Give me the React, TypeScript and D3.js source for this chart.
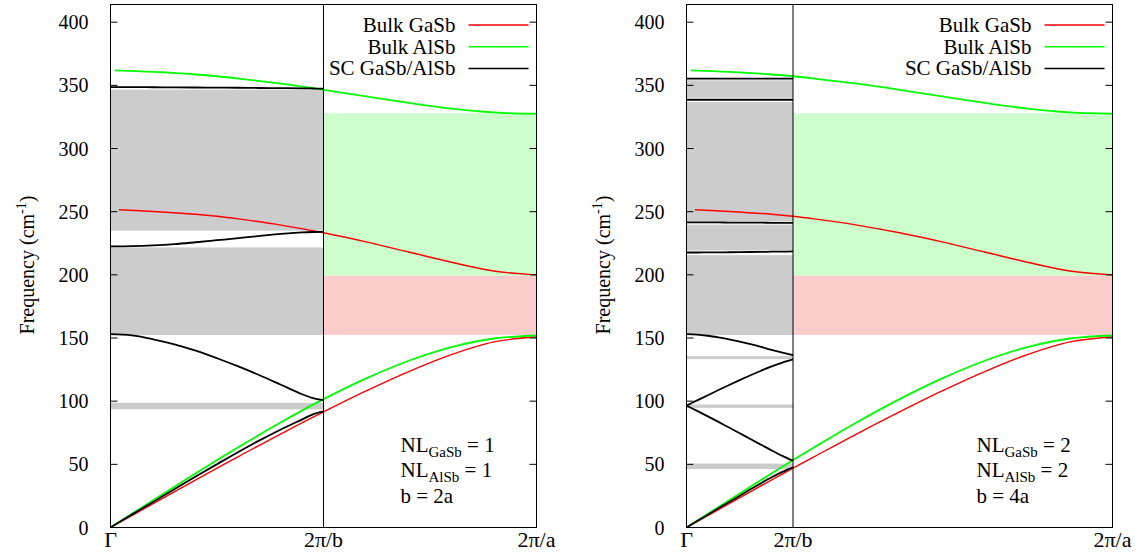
import React from "react";
import * as d3 from "d3";

// ---------- data (frequencies in cm^-1, wavevector in units of 2π/a) ----------
const Q_BULK = [0, 0.1, 0.2, 0.25, 0.3, 0.4, 0.5, 0.6, 0.7, 0.8, 0.9, 1.0];
const Q_GASB_OPT = [0.02, 0.1, 0.2, 0.25, 0.3, 0.4, 0.5, 0.6, 0.7, 0.8, 0.9, 1.0];
const Q_ALSB_OPT = [0.01, 0.1, 0.2, 0.25, 0.3, 0.4, 0.5, 0.6, 0.7, 0.8, 0.9, 1.0];
const GASB_ACOUSTIC = [0, 18.9, 37.7, 47.0, 56.1, 74.2, 91.5, 108.1, 123.4, 136.8, 146.9, 151];
const GASB_OPTICAL = [251.5, 250.2, 248.0, 246.4, 244.3, 239.4, 233.3, 226.1, 218.1, 210.0, 203.0, 200.0];
const ALSB_ACOUSTIC = [0, 21.6, 42.9, 53.4, 63.6, 83.3, 101.6, 118.0, 132.0, 142.8, 149.6, 152];
const ALSB_OPTICAL = [361.8, 360.6, 358.6, 357.2, 355.4, 351.3, 346.5, 341.2, 336.1, 331.6, 328.6, 327.5];

// supercell b = 2a (zone edge at 0.5)
const Q_SC_2A = [0, 0.05, 0.1, 0.15, 0.2, 0.25, 0.3, 0.35, 0.4, 0.45, 0.475, 0.5];
const SC2A_BAND1 = [0, 10.2, 20.2, 30.3, 40.3, 50.1, 59.8, 69.0, 77.6, 85.6, 89.6, 92];
const SC2A_BAND2 = [153, 152, 149, 145, 140, 134, 127.5, 120.5, 113, 105.5, 102.5, 100.8];
const SC2A_BAND3 = [222.5, 222.7, 223.3, 224.3, 225.8, 227.4, 229, 230.8, 232.5, 233.6, 233.9, 234];
const SC2A_BAND4 = [348.6, 348.6, 348.5, 348.4, 348.3, 348.2, 348.1, 347.9, 347.8, 347.6, 347.5, 347.4];
const SC2A_GAPS = [[93.5, 98.7], [152.4, 221.7], [235, 346.6]];

// supercell b = 4a (zone edge at 0.25)
const Q_SC_4A = [0, 0.025, 0.05, 0.075, 0.1, 0.125, 0.15, 0.175, 0.2, 0.225, 0.25];
const SC4A_BAND1 = [0, 5.1, 10.1, 15.2, 20.2, 25.2, 30.2, 35.1, 39.8, 44.0, 47.6];
const SC4A_BAND2 = [96.5, 92.3, 88.0, 83.6, 79.1, 74.6, 70.0, 65.5, 61.0, 56.7, 52.8];
const SC4A_BAND3 = [96.5, 100.6, 104.7, 108.8, 112.8, 116.7, 120.5, 124.1, 127.5, 130.5, 133.0];
const SC4A_BAND4 = [153, 152.7, 151.8, 150.5, 149.0, 147.2, 145.2, 143.0, 140.6, 138.5, 136.5];
const SC4A_BAND5 = [217.7, 217.7, 217.8, 217.8, 217.9, 218.0, 218.1, 218.2, 218.3, 218.4, 218.5];
const SC4A_BAND6 = [241.6, 241.6, 241.5, 241.5, 241.4, 241.4, 241.3, 241.3, 241.2, 241.2, 241.2];
const SC4A_BAND7 = [338.6, 338.6, 338.6, 338.6, 338.6, 338.6, 338.6, 338.6, 338.6, 338.6, 338.6];
const SC4A_BAND8 = [355.3, 355.3, 355.3, 355.3, 355.3, 355.3, 355.3, 355.3, 355.3, 355.3, 355.3];
const SC4A_GAPS = [[46.3, 50.6], [94.7, 97.4], [133.3, 135.7], [152.4, 215.6], [219.3, 239.7], [242.3, 336.7], [340.3, 354]];

const GASB_BULK_GAP = [152.4, 199.5];
const ALSB_BULK_GAP = [199.5, 328];

const Y_TICKS = [0, 50, 100, 150, 200, 250, 300, 350, 400];
const X_TICK_LABELS = ["Γ", "2π/b", "2π/a"];
const LEGEND_LABELS = ["Bulk GaSb", "Bulk AlSb", "SC GaSb/AlSb"];
const LEGEND_COLORS = ["#ff0000", "#00ff00", "#000000"];

const PANELS = [
  { x0: 110.5, zone: 0.5, qSc: Q_SC_2A, bands: [SC2A_BAND1, SC2A_BAND2, SC2A_BAND3, SC2A_BAND4], gaps: SC2A_GAPS, nl: "1", b: "b = 2a" },
  { x0: 686.5, zone: 0.25, qSc: Q_SC_4A, bands: [SC4A_BAND1, SC4A_BAND2, SC4A_BAND3, SC4A_BAND4, SC4A_BAND5, SC4A_BAND6, SC4A_BAND7, SC4A_BAND8], gaps: SC4A_GAPS, nl: "2", b: "b = 4a" },
];

const FONT = '"Liberation Serif", "Times New Roman", serif';
const PW = 426;
const TOP = 4.5;
const BOTTOM = 527.5;

function Panel({ p }: { p: (typeof PANELS)[number] }) {
  const x = d3.scaleLinear().domain([0, 1]).range([p.x0, p.x0 + PW]);
  const y = d3.scaleLinear().domain([0, 414]).range([BOTTOM, TOP]);
  const line = (qs: number[], vs: number[]) =>
    d3.line<number>().x((_, i) => x(qs[i])).y((v) => y(v)).curve(d3.curveCatmullRom.alpha(0.5))(vs) || "";
  const xz = x(p.zone);
  const x1 = x(1);
  const ticksX = [0, p.zone, 1];
  return (
    <g>
      {p.gaps.map((g, i) => (
        <rect key={"g" + i} x={x(0)} width={xz - x(0)} y={y(g[1])} height={y(g[0]) - y(g[1])} fill="#cccccc" />
      ))}
      <rect x={xz} width={x1 - xz} y={y(GASB_BULK_GAP[1])} height={y(GASB_BULK_GAP[0]) - y(GASB_BULK_GAP[1])} fill="#ffcccc" />
      <rect x={xz} width={x1 - xz} y={y(ALSB_BULK_GAP[1])} height={y(ALSB_BULK_GAP[0]) - y(ALSB_BULK_GAP[1])} fill="#ccffcc" />
      <path d={line(Q_BULK, GASB_ACOUSTIC)} fill="none" stroke="#ff0000" strokeWidth={1.4} />
      <path d={line(Q_GASB_OPT, GASB_OPTICAL)} fill="none" stroke="#ff0000" strokeWidth={1.4} />
      <path d={line(Q_BULK, ALSB_ACOUSTIC)} fill="none" stroke="#00ff00" strokeWidth={1.8} />
      <path d={line(Q_ALSB_OPT, ALSB_OPTICAL)} fill="none" stroke="#00ff00" strokeWidth={1.8} />
      {p.bands.map((b, i) => (
        <path key={"b" + i} d={line(p.qSc, b)} fill="none" stroke="#000" strokeWidth={1.8} />
      ))}
      <line x1={xz} x2={xz} y1={TOP} y2={BOTTOM} stroke="#000" strokeWidth={1} />
      {Y_TICKS.map((t) => (
        <g key={"t" + t}>
          <line x1={x(0)} x2={x(0) + 7} y1={y(t)} y2={y(t)} stroke="#000" />
          <line x1={x1} x2={x1 - 7} y1={y(t)} y2={y(t)} stroke="#000" />
          <text x={x(0) - 22} y={y(t) + 7} textAnchor="end">{t}</text>
        </g>
      ))}
      {ticksX.map((t, i) => (
        <text key={"xt" + i} x={x(t)} y={547} textAnchor="middle" fontSize={22}>{X_TICK_LABELS[i]}</text>
      ))}
      <rect x={x(0)} y={TOP} width={PW} height={BOTTOM - TOP} fill="none" stroke="#000" strokeWidth={1} />
      <text transform={`translate(${p.x0 - 77},265) rotate(-90)`} textAnchor="middle">
        Frequency (cm<tspan dy={-8} fontSize={14}>-1</tspan><tspan dy={8}>)</tspan>
      </text>
      {LEGEND_LABELS.map((l, i) => (
        <g key={"l" + i}>
          <text x={x1 - 81} y={25 + i * 21.7 + 7} textAnchor="end" fontSize={21}>{l}</text>
          <line x1={x1 - 68} x2={x1 - 8} y1={25 + i * 21.7} y2={25 + i * 21.7} stroke={LEGEND_COLORS[i]} strokeWidth={1.5} />
        </g>
      ))}
      <g fontSize={21}>
        <text x={p.x0 + 290} y={452}>NL<tspan fontSize={15} dy={5}>GaSb</tspan><tspan dy={-5}> = {p.nl}</tspan></text>
        <text x={p.x0 + 290} y={477}>NL<tspan fontSize={15} dy={5}>AlSb</tspan><tspan dy={-5}>{"  = " + p.nl}</tspan></text>
        <text x={p.x0 + 290} y={503}>{p.b}</text>
      </g>
    </g>
  );
}

export default function App() {
  return (
    <div style={{ position: "absolute", left: 0, top: 0 }}>
      <svg width={1141} height={554} style={{ display: "block", background: "#fff", fontFamily: FONT, fontSize: 20, whiteSpace: "pre" }}>
        {PANELS.map((p, i) => (
          <Panel key={i} p={p} />
        ))}
      </svg>
    </div>
  );
}
